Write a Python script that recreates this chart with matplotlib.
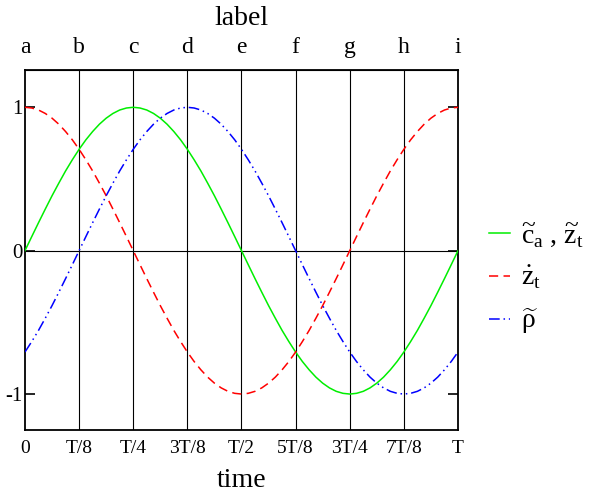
import matplotlib
matplotlib.use("Agg")
import matplotlib.pyplot as plt
import numpy as np

plt.rcParams["font.family"] = ["Liberation Serif", "DejaVu Serif"]
plt.rcParams["mathtext.fontset"] = "custom"
plt.rcParams["mathtext.rm"] = "Liberation Serif"
plt.rcParams["mathtext.it"] = "Liberation Serif:italic"

# samples every T/64
t = np.linspace(0, 1, 65)
c_a = [0.000, 0.098, 0.195, 0.290, 0.383, 0.471, 0.556, 0.634, 0.707, 0.773, 0.831, 0.882, 0.924, 0.957, 0.981, 0.995, 1.000,
       0.995, 0.981, 0.957, 0.924, 0.882, 0.831, 0.773, 0.707, 0.634, 0.556, 0.471, 0.383, 0.290, 0.195, 0.098, 0.000,
       -0.098, -0.195, -0.290, -0.383, -0.471, -0.556, -0.634, -0.707, -0.773, -0.831, -0.882, -0.924, -0.957, -0.981, -0.995, -1.000,
       -0.995, -0.981, -0.957, -0.924, -0.882, -0.831, -0.773, -0.707, -0.634, -0.556, -0.471, -0.383, -0.290, -0.195, -0.098, 0.000]
z_dot = [1.000, 0.995, 0.981, 0.957, 0.924, 0.882, 0.831, 0.773, 0.707, 0.634, 0.556, 0.471, 0.383, 0.290, 0.195, 0.098, 0.000,
         -0.098, -0.195, -0.290, -0.383, -0.471, -0.556, -0.634, -0.707, -0.773, -0.831, -0.882, -0.924, -0.957, -0.981, -0.995, -1.000,
         -0.995, -0.981, -0.957, -0.924, -0.882, -0.831, -0.773, -0.707, -0.634, -0.556, -0.471, -0.383, -0.290, -0.195, -0.098, 0.000,
         0.098, 0.195, 0.290, 0.383, 0.471, 0.556, 0.634, 0.707, 0.773, 0.831, 0.882, 0.924, 0.957, 0.981, 0.995, 1.000]
rho = [-0.707, -0.634, -0.556, -0.471, -0.383, -0.290, -0.195, -0.098, 0.000,
       0.098, 0.195, 0.290, 0.383, 0.471, 0.556, 0.634, 0.707, 0.773, 0.831, 0.882, 0.924, 0.957, 0.981, 0.995, 1.000,
       0.995, 0.981, 0.957, 0.924, 0.882, 0.831, 0.773, 0.707, 0.634, 0.556, 0.471, 0.383, 0.290, 0.195, 0.098, 0.000,
       -0.098, -0.195, -0.290, -0.383, -0.471, -0.556, -0.634, -0.707, -0.773, -0.831, -0.882, -0.924, -0.957, -0.981, -0.995, -1.000,
       -0.995, -0.981, -0.957, -0.924, -0.882, -0.831, -0.773, -0.707]

bottom_labels = ["0", "T/8", "T/4", "3T/8", "T/2", "5T/8", "3T/4", "7T/8", "T"]
top_labels = ["a", "b", "c", "d", "e", "f", "g", "h", "i"]
tick_pos = np.linspace(0, 1, 9)

fig = plt.figure(figsize=(5.99, 4.93), dpi=100)
ax = fig.add_axes([0.0417, 0.128, 0.7229, 0.730])

for x in tick_pos[1:-1]:
    ax.axvline(x, color="black", lw=0.8, zorder=1)
ax.axhline(0, color="black", lw=0.8, zorder=1)

ax.plot(t, c_a, color="#00ee00", lw=1.1,
        label=r"$\widetilde{\mathrm{c}}_{\mathrm{a}}\ ,\,\widetilde{\mathrm{z}}_{\mathrm{t}}$", zorder=3)
ax.plot(t, z_dot, color="red", lw=1.1, dashes=(6, 3.5),
        label=r"$\dot{\mathrm{z}}_{\mathrm{t}}$", zorder=3)
ax.plot(t, rho, color="blue", lw=1.1, dashes=(7, 2.5, 1, 2.5, 1, 2.5),
        label=r"$\widetilde{\mathrm{\rho}}$", zorder=3)

ax.set_xlim(0, 1)
ax.set_ylim(-1.25, 1.26)
ax.set_xticks(tick_pos)
ax.set_xticklabels(bottom_labels, fontsize=14)
ax.set_yticks([-1, 0, 1])
ax.set_yticklabels(["-1", "0", "1"], fontsize=15)
ax.tick_params(axis="x", length=0, pad=7)
ax.tick_params(axis="y", direction="in", length=7, width=1.2, right=True, pad=2)
ax.set_xlabel("time", fontsize=20, labelpad=8)
for s in ax.spines.values():
    s.set_linewidth(1.3)

top = ax.secondary_xaxis("top")
top.set_xticks(tick_pos)
top.set_xticklabels(top_labels, fontsize=17)
top.tick_params(length=0, pad=9)
top.set_xlabel("label", fontsize=20, labelpad=8)

ax.legend(loc="center left", bbox_to_anchor=(1.015, 0.42), frameon=False,
          fontsize=20, handlelength=0.75, handletextpad=0.4, labelspacing=0.55)

fig.savefig("out.png", dpi=100)
